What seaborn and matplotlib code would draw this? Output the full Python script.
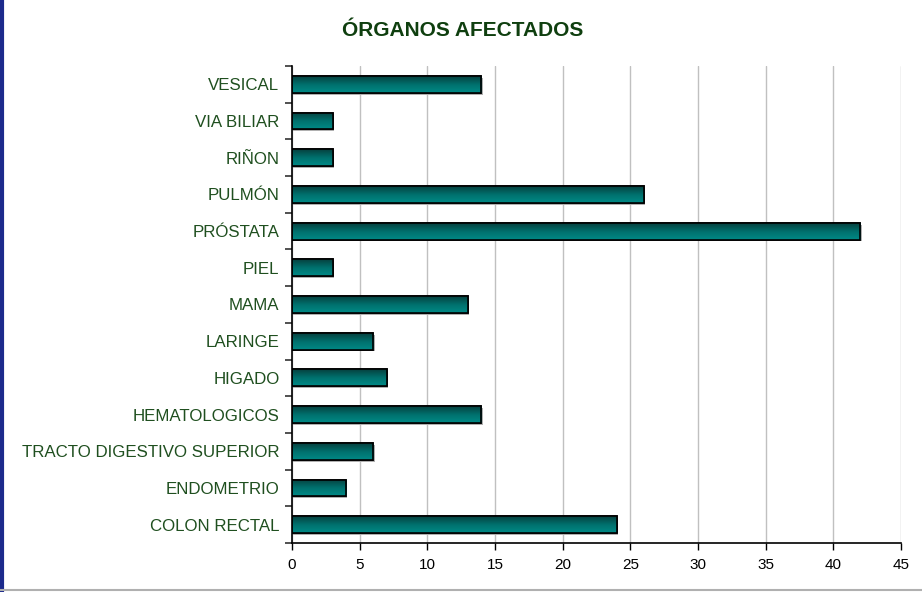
import matplotlib
matplotlib.use("Agg")

import matplotlib.pyplot as plt
import numpy as np
import pandas as pd
import seaborn as sns
from matplotlib.lines import Line2D
from matplotlib.patches import Rectangle

# ======================================================
# Data
# ======================================================

organs = [
    "VESICAL",
    "VIA BILIAR",
    "RIÑON",
    "PULMÓN",
    "PRÓSTATA",
    "PIEL",
    "MAMA",
    "LARINGE",
    "HIGADO",
    "HEMATOLOGICOS",
    "TRACTO DIGESTIVO SUPERIOR",
    "ENDOMETRIO",
    "COLON RECTAL",
]

cases = [14, 3, 3, 26, 42, 3, 13, 6, 7, 14, 6, 4, 24]

x_ticks = [0, 5, 10, 15, 20, 25, 30, 35, 40, 45]

df = pd.DataFrame({"organ": organs, "cases": cases})

# ======================================================
# Style
# ======================================================

sns.set_theme(style="white")
plt.rcParams["font.family"] = ["Liberation Sans", "DejaVu Sans"]

label_green = "#1f4f1f"
title_green = "#0f3f0f"

fig = plt.figure(figsize=(9.22, 5.92), dpi=100)
ax = fig.add_axes([0.3167, 0.0828, 0.6605, 0.8057])

sns.barplot(
    data=df,
    y="organ",
    x="cases",
    orient="h",
    color="#007a78",
    width=0.46,
    edgecolor="black",
    linewidth=1.2,
    ax=ax,
)

# gradient fill + small shadow for each bar
gradient = np.linspace(0, 1, 64).reshape(-1, 1)
cmap = matplotlib.colors.LinearSegmentedColormap.from_list(
    "teal_grad", ["#06403e", "#00706d", "#008a86"]
)

for bar in list(ax.patches):
    x0, y0 = bar.get_x(), bar.get_y()
    w, h = bar.get_width(), bar.get_height()

    shadow = Rectangle(
        (x0 + 0.1, y0 + 0.05), w, h,
        facecolor="#b0b0b0", edgecolor="none", zorder=1.5,
    )
    ax.add_patch(shadow)

    bar.set_zorder(2)
    img = ax.imshow(
        gradient,
        extent=(x0, x0 + w, y0 + h, y0),
        cmap=cmap,
        aspect="auto",
        zorder=2.1,
    )
    img.set_clip_path(bar)

    outline = Rectangle(
        (x0, y0), w, h,
        facecolor="none", edgecolor="black", linewidth=1.2, zorder=2.2,
    )
    ax.add_patch(outline)

# ======================================================
# Axes
# ======================================================

ax.set_xlim(0, 45)
ax.set_ylim(len(organs) - 0.5, -0.5)
ax.set_xticks(x_ticks)
ax.set_xticklabels([str(t) for t in x_ticks], fontsize=11, color="black")

ax.set_yticks(range(len(organs)))
ax.set_yticklabels(organs, fontsize=12.2, color=label_green)
ax.set_yticks(np.arange(-0.5, len(organs) + 0.5, 1), minor=True)

ax.tick_params(axis="y", which="major", length=0, pad=9)
ax.tick_params(axis="y", which="minor", length=5, width=1.2, color="#333333", direction="out", left=True)
ax.tick_params(axis="x", which="major", length=5, width=1, color="black", direction="out", bottom=True, pad=6)

ax.xaxis.grid(True, color="#c0c0c0", linewidth=1)
ax.yaxis.grid(False)
ax.set_axisbelow(True)

ax.set_xlabel("")
ax.set_ylabel("")

for side in ["top", "right"]:
    ax.spines[side].set_visible(False)
for side in ["left", "bottom"]:
    ax.spines[side].set_color("black")
    ax.spines[side].set_linewidth(1.2)

fig.text(
    0.502, 0.948, "ÓRGANOS AFECTADOS",
    ha="center", va="center",
    fontsize=15, fontweight="bold", color=title_green,
)

# frame pieces of the original sheet
fig.add_artist(Line2D([0.002, 0.002], [0, 1], color="#1c2a8c", linewidth=3, transform=fig.transFigure))
fig.add_artist(Line2D([0, 1], [0.004, 0.004], color="#b0b0b0", linewidth=1.5, transform=fig.transFigure))

fig.savefig("out.png", dpi=100)
plt.close(fig)
